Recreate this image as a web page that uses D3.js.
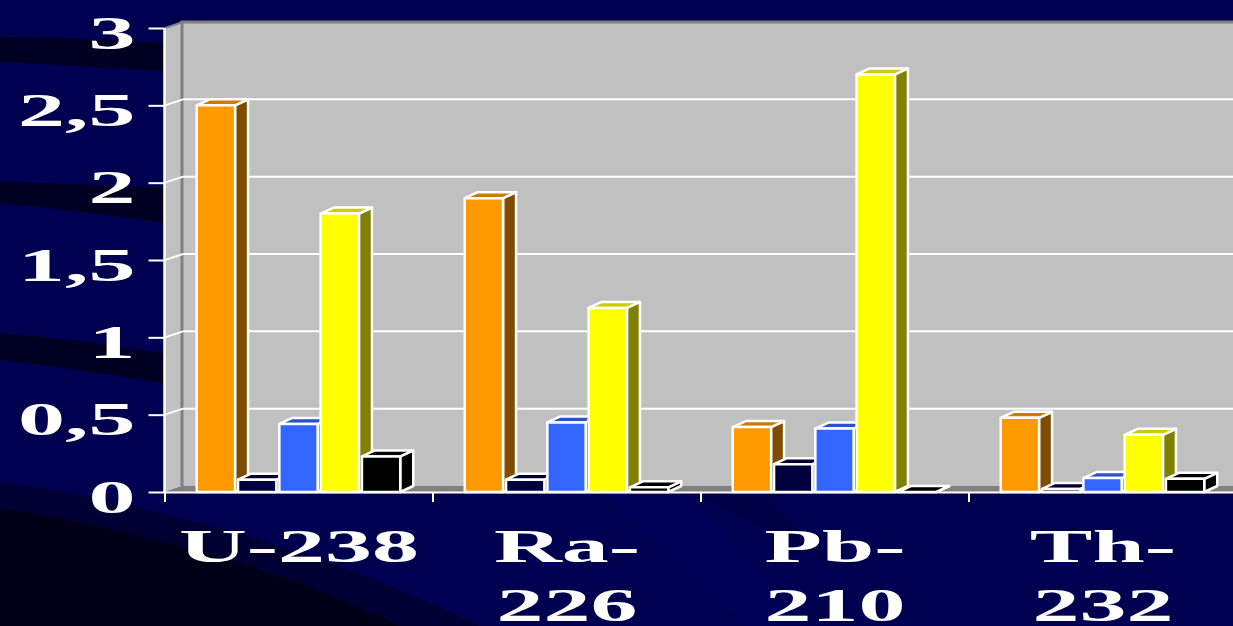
<!DOCTYPE html>
<html>
<head>
<meta charset="utf-8">
<script src="https://cdn.jsdelivr.net/npm/d3@7/dist/d3.min.js"></script>
<style>
  html, body { margin: 0; padding: 0; background: #000050; overflow: hidden; }
  svg { display: block; }
</style>
</head>
<body>
<svg id="chart" width="1233" height="626"></svg>
<script>
// ---- data ----
const categories = ["U-238", "Ra-226", "Pb-210", "Th-232"];
const categoryLines = [["U-238"], ["Ra-", "226"], ["Pb-", "210"], ["Th-", "232"]];
const seriesNames = ["s1", "s2", "s3", "s4", "s5"];
const s1Values = [2.5, 1.9, 0.42, 0.48];
const s2Values = [0.08, 0.08, 0.18, 0.02];
const s3Values = [0.44, 0.45, 0.41, 0.09];
const s4Values = [1.8, 1.19, 2.7, 0.37];
const s5Values = [0.23, 0.03, 0.0, 0.085];
const yTickValues = [0, 0.5, 1, 1.5, 2, 2.5, 3];
const yTickLabels = ["0", "0,5", "1", "1,5", "2", "2,5", "3"];

const seriesValues = [s1Values, s2Values, s3Values, s4Values, s5Values];
const seriesColors = [
  { front: "#FF9900", top: "#CC7A00", side: "#7F4C00" },
  { front: "#000040", top: "#000033", side: "#000020" },
  { front: "#3366FF", top: "#2952CC", side: "#1A3380" },
  { front: "#FFFF00", top: "#CCCC00", side: "#808000" },
  { front: "#000000", top: "#000000", side: "#000000" }
];

const svg = d3.select("#chart");
const W = 1233, H = 626;

// background
svg.append("rect").attr("width", W).attr("height", H).attr("fill", "#000050");
const bg = svg.append("g");
bg.append("path").attr("d", "M600,492 L690,492 L800,626 L745,626 Z").attr("fill", "#000058");
bg.append("path").attr("d", "M690,492 L760,492 L830,560 Z").attr("fill", "#000044");
bg.append("path").attr("d", "M0,37 Q90,38 200,45 L200,74 Q90,66 0,62 Z").attr("fill", "#000022");
bg.append("path").attr("d", "M0,182 Q90,184 200,190 L200,228 Q90,212 0,203 Z").attr("fill", "#000022");
bg.append("path").attr("d", "M0,333 Q90,340 200,360 L200,390 Q90,370 0,360 Z").attr("fill", "#000022");
bg.append("path").attr("d", "M0,482 Q260,520 480,626 L0,626 Z").attr("fill", "#000032");
bg.append("path").attr("d", "M0,508 Q230,545 400,626 L0,626 Z").attr("fill", "#000018");

// scales
const y = d3.scaleLinear().domain([0, 3]).range([492, 28]);
const x0 = d3.scaleBand().domain(categories).range([165, 1237]).padding(0);
const x1 = d3.scaleBand().domain(seriesNames).range([0, x0.bandwidth()]).paddingInner(0).paddingOuter(0.745);

const DX = 18, DY = 6;     // wall depth
const BDX = 13, BDY = 6;   // bar depth
const xL = x0.range()[0], xR = x0.range()[1];

// floor
svg.append("path")
  .attr("d", `M${xL},${y(0)} L${xL + DX},${y(0) - DY} L${xR + DX + 40},${y(0) - DY} L${xR + 40},${y(0)} Z`)
  .attr("fill", "#808080");
// side wall
svg.append("path")
  .attr("d", `M${xL},${y(3)} L${xL + DX},${y(3) - DY} L${xL + DX},${y(0) - DY} L${xL},${y(0)} Z`)
  .attr("fill", "#C0C0C0");
svg.append("line")
  .attr("x1", xL).attr("y1", y(3)).attr("x2", xL + DX).attr("y2", y(3) - DY)
  .attr("stroke", "#808080").attr("stroke-width", 2);
// back wall
svg.append("rect")
  .attr("x", xL + DX).attr("y", y(3) - DY)
  .attr("width", W - (xL + DX) + 20).attr("height", y(0) - y(3))
  .attr("fill", "#C0C0C0");
svg.append("path")
  .attr("d", `M${xL + DX - 1},${y(0) - DY} L${xL + DX - 1},${y(3) - DY} L${W + 20},${y(3) - DY}`)
  .attr("fill", "none").attr("stroke", "#808080").attr("stroke-width", 3);

// gridlines
const grid = svg.append("g");
yTickValues.filter(v => v > 0 && v < 3).forEach(v => {
  grid.append("line")
    .attr("x1", xL).attr("y1", y(v)).attr("x2", xL + DX).attr("y2", y(v) - DY)
    .attr("stroke", "#fff").attr("stroke-width", 2);
  grid.append("line")
    .attr("x1", xL + DX).attr("y1", y(v) - DY).attr("x2", W + 20).attr("y2", y(v) - DY)
    .attr("stroke", "#fff").attr("stroke-width", 2);
});

// y axis
const yAxis = d3.axisLeft(y).tickValues(yTickValues).tickSize(16).tickFormat((d, i) => yTickLabels[i]);
const yg = svg.append("g").attr("transform", `translate(${xL - 0.5},0)`).call(yAxis);
yg.select(".domain").attr("stroke", "#fff").attr("stroke-width", 2.5).attr("d", `M0,${y(3)}V${y(0)}`);
yg.selectAll(".tick line").attr("stroke", "#fff").attr("stroke-width", 2);
yg.selectAll(".tick text").remove();
yg.selectAll(".tick").each(function (d, i) {
  d3.select(this).append("g")
    .attr("transform", `translate(-29,20) scale(2,1)`)
    .append("text")
    .attr("text-anchor", "end")
    .attr("font-family", "'Liberation Serif', 'Times New Roman', serif")
    .attr("font-weight", "bold")
    .attr("font-size", 47)
    .attr("fill", "#fff")
    .text(yTickLabels[i]);
});

// x axis
const xAxisLine = svg.append("g");
xAxisLine.append("line")
  .attr("x1", xL).attr("y1", y(0) + 0.5).attr("x2", W + 10).attr("y2", y(0) + 0.5)
  .attr("stroke", "#fff").attr("stroke-width", 2);
categories.forEach(c => {
  xAxisLine.append("line")
    .attr("x1", x0(c)).attr("x2", x0(c)).attr("y1", y(0)).attr("y2", y(0) + 10)
    .attr("stroke", "#fff").attr("stroke-width", 2);
});

// bars
const bars = svg.append("g");
categories.forEach((c, ci) => {
  seriesNames.forEach((s, si) => {
    const v = seriesValues[si][ci];
    const col = seriesColors[si];
    const bx = x0(c) + x1(s) + 1;
    const bw = x1.bandwidth() - 3;
    const yt = y(v), yb = y(0);
    const g = bars.append("g").attr("stroke", "#fff").attr("stroke-width", 2.5).attr("stroke-linejoin", "round");
    g.append("path")
      .attr("d", `M${bx + bw},${yt} L${bx + bw + BDX},${yt - BDY} L${bx + bw + BDX},${yb - BDY} L${bx + bw},${yb} Z`)
      .attr("fill", col.side);
    g.append("path")
      .attr("d", `M${bx},${yt} L${bx + BDX},${yt - BDY} L${bx + bw + BDX},${yt - BDY} L${bx + bw},${yt} Z`)
      .attr("fill", col.top);
    g.append("rect")
      .attr("x", bx).attr("y", yt).attr("width", bw).attr("height", Math.max(0, yb - yt))
      .attr("fill", col.front);
  });
});

// category labels
const labels = svg.append("g");
categories.forEach((c, ci) => {
  const cx = x0(c) + x0.bandwidth() / 2;
  categoryLines[ci].forEach((line, li) => {
    labels.append("g")
      .attr("transform", `translate(${cx},${562 + li * 59}) scale(2,1)`)
      .append("text")
      .attr("text-anchor", "middle")
      .attr("font-family", "'Liberation Serif', 'Times New Roman', serif")
      .attr("font-weight", "bold")
      .attr("font-size", 47)
      .attr("fill", "#fff")
      .text(line);
  });
});
</script>
</body>
</html>
